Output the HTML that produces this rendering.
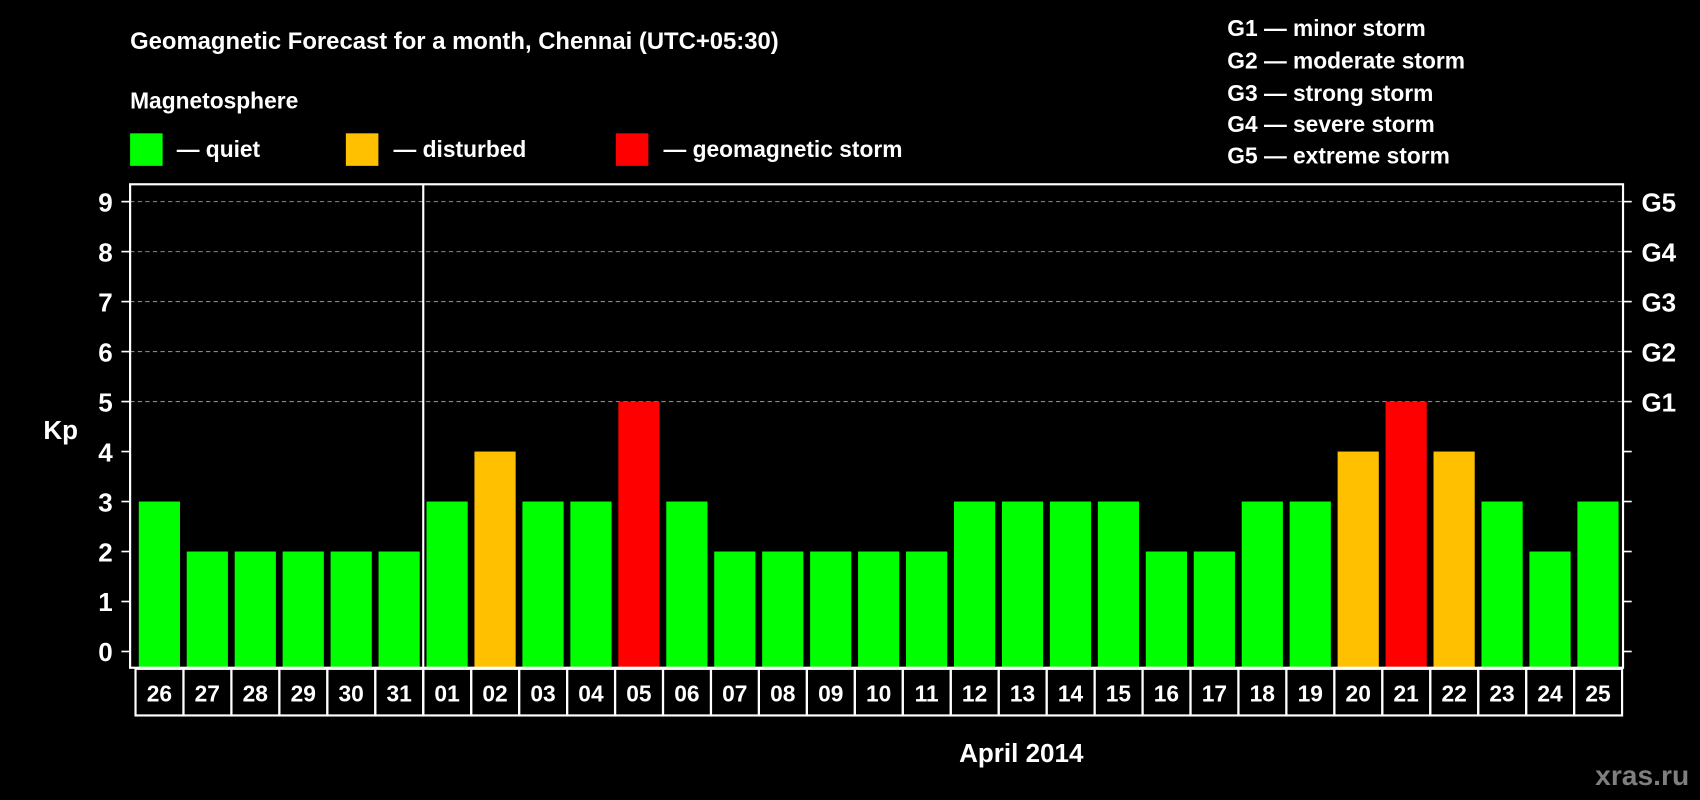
<!DOCTYPE html>
<html><head><meta charset="utf-8"><style>
html,body{margin:0;padding:0;background:#000;}
svg{display:block;}
text{font-family:"Liberation Sans",Arial,sans-serif;font-weight:bold;fill:#fff;}
</style></head><body>
<svg id="chart" width="1700" height="800" viewBox="0 0 1568 738" preserveAspectRatio="none" xmlns="http://www.w3.org/2000/svg">
<rect width="1568" height="738" fill="#000"/>
<text x="120" y="45" font-size="22">Geomagnetic Forecast for a month, Chennai (UTC+05:30)</text>
<text x="120" y="100" font-size="21">Magnetosphere</text>
<g><rect x="120" y="123" width="30" height="30" fill="#00ff00"/><text x="163" y="145" font-size="21">— quiet</text></g>
<g><rect x="319" y="123" width="30" height="30" fill="#ffc000"/><text x="363" y="145" font-size="21">— disturbed</text></g>
<g><rect x="568" y="123" width="30" height="30" fill="#ff0000"/><text x="612" y="145" font-size="21">— geomagnetic storm</text></g>
<g font-size="21">
<text x="1132" y="33">G1 — minor storm</text>
<text x="1132" y="63">G2 — moderate storm</text>
<text x="1132" y="93">G3 — strong storm</text>
<text x="1132" y="122">G4 — severe storm</text>
<text x="1132" y="151">G5 — extreme storm</text>
</g>
<text x="40" y="405" font-size="24">Kp</text>
<g id="grid"></g><g id="bars"></g><g id="axes"></g>
<text x="942" y="703" font-size="24" text-anchor="middle">April 2014</text>
<text x="1558" y="724" font-size="26" text-anchor="end" style="fill:#7f7f7f">xras.ru</text>
</svg>
<script>
const days = ["26","27","28","29","30","31","01","02","03","04","05","06","07","08","09","10","11","12","13","14","15","16","17","18","19","20","21","22","23","24","25"];
const kpValues = [3,2,2,2,2,2,3,4,3,3,5,3,2,2,2,2,2,3,3,3,3,2,2,3,3,4,5,4,3,2,3];
const yTicks = [0,1,2,3,4,5,6,7,8,9];
const gLabels = ["G1","G2","G3","G4","G5"];
const gLevels = [5,6,7,8,9];

const NS="http://www.w3.org/2000/svg";
const L=120,R=1497,T=170,B=616,Y0=601,Y9=186,X0=128,STEP=44.23,BW=38;
const y=v=>Y0-(Y0-Y9)*v/9;
const x=i=>X0+i*STEP;
const color=v=>v>=5?"#ff0000":(v>=4?"#ffc000":"#00ff00");
function mk(tag,attrs,parent){const e=document.createElementNS(NS,tag);for(const k in attrs)e.setAttribute(k,attrs[k]);parent.appendChild(e);return e;}
const grid=document.getElementById('grid'),bars=document.getElementById('bars'),axes=document.getElementById('axes');
yTicks.forEach(t=>{
  if(t>=5){const g=mk('line',{x1:L,x2:R,y1:y(t),y2:y(t),stroke:'#888','stroke-dasharray':'4,3','stroke-width':1},grid);
  
  }
  mk('line',{x1:L-8,x2:L,y1:y(t),y2:y(t),stroke:'#fff','stroke-width':1.5},axes);
  mk('line',{x1:R,x2:R+8,y1:y(t),y2:y(t),stroke:'#fff','stroke-width':1.5},axes);
  const tx=mk('text',{x:L-16,y:y(t)+9,'font-size':24,'text-anchor':'end'},axes);
  tx.textContent=t;
  
  
});
gLabels.forEach((g,i)=>{
  const tx=mk('text',{x:R+17,y:y(gLevels[i])+9,'font-size':24},axes);
  tx.textContent=g;
  
  
});
kpValues.forEach((v,i)=>{
  const r=mk('rect',{x:x(i),y:y(v),width:BW,height:B-y(v),fill:color(v)},bars);
  
  
  const bx=mk('rect',{x:x(i)-3,y:B+1,width:STEP,height:43,fill:'none',stroke:'#fff','stroke-width':2},axes);
  
  
  const tx=mk('text',{x:x(i)+BW/2,y:B+31,'font-size':21,'text-anchor':'middle'},axes);
  tx.textContent=days[i];
  
  
});
const fr=mk('rect',{x:L,y:T,width:R-L,height:B-T,fill:'none',stroke:'#fff','stroke-width':2},axes);


const dx=x(6)-3;
const dv=mk('line',{x1:dx,x2:dx,y1:T,y2:B+44,stroke:'#fff','stroke-width':2},axes);


</script>
</body></html>
